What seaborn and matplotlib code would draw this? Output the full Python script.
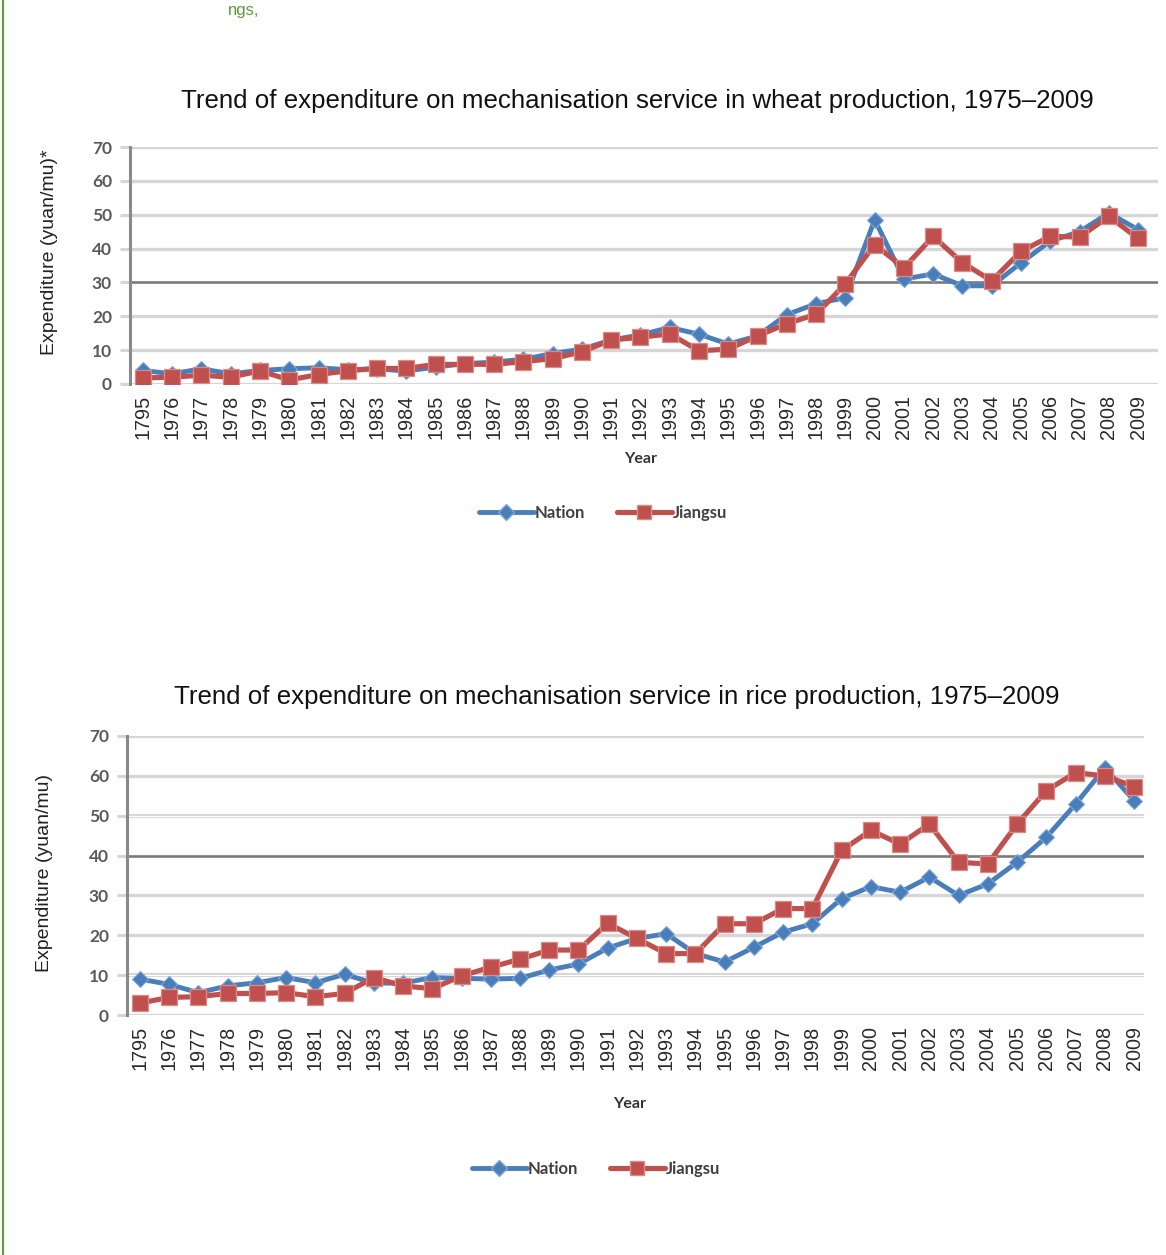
import matplotlib
matplotlib.use("Agg")
import matplotlib.pyplot as plt
import seaborn as sns
from matplotlib.lines import Line2D

# --- data -------------------------------------------------------------
years = ["1795", "1976", "1977", "1978", "1979", "1980", "1981", "1982",
         "1983", "1984", "1985", "1986", "1987", "1988", "1989", "1990",
         "1991", "1992", "1993", "1994", "1995", "1996", "1997", "1998",
         "1999", "2000", "2001", "2002", "2003", "2004", "2005", "2006",
         "2007", "2008", "2009"]

wheat_nation = [4, 3, 4.5, 3, 4, 4.5, 4.8, 4.2, 4.5, 3.8, 5, 6, 6.5, 7.3,
                9, 10.3, 13, 14.5, 16.7, 14.7, 11.8, 14.2, 20.5, 23.7, 25.5,
                48.5, 31, 32.5, 29, 29, 35.8, 42.2, 45, 50.5, 45.6]
wheat_jiangsu = [1.8, 2, 2.6, 2, 3.9, 1.2, 2.8, 3.9, 4.6, 4.6, 5.8, 5.8,
                 5.8, 6.6, 7.5, 9.5, 13, 13.8, 14.8, 9.8, 10.3, 14.2, 17.8,
                 20.6, 29.6, 41.2, 34.3, 43.6, 35.8, 30.5, 39.2, 43.6, 43.4,
                 49.5, 43]

rice_nation = [9, 7.7, 5.6, 7.3, 8.1, 9.4, 8.1, 10.2, 8, 8, 9.4, 9.2, 9,
               9.2, 11.3, 12.8, 16.8, 19.2, 20.4, 15.4, 13.3, 17, 20.8, 22.9,
               29.2, 32.2, 30.8, 34.6, 30, 32.9, 38.3, 44.6, 52.9, 62, 53.8]
rice_jiangsu = [3, 4.4, 4.6, 5.4, 5.4, 5.6, 4.6, 5.4, 9.4, 7.3, 6.6, 9.8,
                12, 14, 16.3, 16.3, 23, 19.2, 15.4, 15.4, 22.9, 22.9, 26.7,
                26.7, 41.3, 46.3, 42.9, 47.9, 38.3, 37.9, 47.9, 56.3, 60.8,
                60, 57.3]

series_names = ["Nation", "Jiangsu"]
y_ticks = [0, 10, 20, 30, 40, 50, 60, 70]

# --- styling ----------------------------------------------------------
sns.set_theme(style="white")
plt.rcParams["font.family"] = ["Liberation Sans", "DejaVu Sans"]

W, H = 1166, 1255
fig = plt.figure(figsize=(W / 100, H / 100), dpi=100)


def fx(px):
    return px / W


def fy(py):
    return 1 - py / H


BLUE = "#4a7ebb"
BLUE_EDGE = "#7ea6d8"
RED = "#c0504d"
RED_EDGE = "#dd8a87"
GRID = "#d6d6d6"
DARK = "#7a7a7a"

line_styles = {
    "Nation": dict(color=BLUE, markers="D", markersize=8,
                   markeredgecolor=BLUE_EDGE, markeredgewidth=0.8,
                   linewidth=3.5),
    "Jiangsu": dict(color=RED, markers="s", markersize=11,
                    markeredgecolor=RED_EDGE, markeredgewidth=0.9,
                    linewidth=3.7),
}


def draw_panel(ax, nation, jiangsu, dark_level, double_levels, xlim):
    # horizontal guide lines
    for v in y_ticks:
        if v == dark_level:
            ax.axhline(v, color=DARK, lw=1.9, zorder=0)
        elif v in double_levels:
            ax.axhline(v, color=GRID, lw=3.0, zorder=0)
            ax.axhline(v, color="white", lw=0.8, zorder=0)
        else:
            ax.axhline(v, color=GRID, lw=2.4, zorder=0)

    for name, vals in zip(series_names, [nation, jiangsu]):
        sns.pointplot(x=years, y=vals, ax=ax, linestyles="-",
                      **line_styles[name])

    ax.set_xlim(*xlim)
    ax.set_ylim(0, 70)
    ax.set_yticks(y_ticks)
    ax.set_yticklabels([str(v) for v in y_ticks], family="Lato",
                       fontweight="bold", fontsize=12.5, color="#5a5a5a")
    ax.set_xticks(range(len(years)))
    ax.set_xticklabels(years, rotation=90, fontsize=14.3, color="#2a2a2a")
    ax.tick_params(axis="x", length=0, pad=8)
    ax.tick_params(axis="y", length=7, width=2.2, color=GRID, pad=6,
                   direction="out", left=True)
    for s in ["top", "right", "bottom"]:
        ax.spines[s].set_visible(False)
    ax.spines["left"].set_color("#8a8a8a")
    ax.spines["left"].set_linewidth(2.2)
    ax.set_xlabel("")
    ax.set_ylabel("")
    ax.grid(False)


def add_legend(cx, cy):
    handles = [
        Line2D([], [], color=BLUE, marker="D", markersize=8.5,
               markeredgecolor=BLUE_EDGE, lw=3.5),
        Line2D([], [], color=RED, marker="s", markersize=10.5,
               markeredgecolor=RED_EDGE, lw=3.7),
    ]
    fig.legend(handles, series_names, loc="center",
               bbox_to_anchor=(fx(cx), fy(cy)), ncol=2, frameon=False,
               handlelength=3.3, handletextpad=0.05, columnspacing=1.9,
               prop=dict(family="Lato", weight="bold", size=12),
               labelcolor="#404040")


TITLE_SIZE = 18.6

# wheat panel
ax1 = fig.add_axes([fx(130), fy(384), fx(1158) - fx(130), fy(147) - fy(384)])
draw_panel(ax1, wheat_nation, wheat_jiangsu, 30, [], (-0.44, 34.68))
fig.text(fx(637), fy(101),
         "Trend of expenditure on mechanisation service in wheat production, 1975\u20132009",
         ha="center", va="center", fontsize=TITLE_SIZE, color="#111111")
fig.text(fx(50), fy(252), "Expenditure (yuan/mu)*", rotation=90,
         ha="center", va="center", fontsize=14, color="#222222")
fig.text(fx(641), fy(459), "Year", ha="center", va="center",
         family="Lato", fontweight="bold", fontsize=11.5, color="#333333")
add_legend(603, 513)

# rice panel
ax2 = fig.add_axes([fx(127), fy(1015), fx(1144) - fx(127), fy(736) - fy(1015)])
draw_panel(ax2, rice_nation, rice_jiangsu, 40, [10, 50], (-0.44, 34.34))
fig.text(fx(617), fy(697),
         "Trend of expenditure on mechanisation service in rice production, 1975\u20132009",
         ha="center", va="center", fontsize=TITLE_SIZE, color="#111111")
fig.text(fx(45), fy(873), "Expenditure (yuan/mu)", rotation=90,
         ha="center", va="center", fontsize=14, color="#222222")
fig.text(fx(630), fy(1104), "Year", ha="center", va="center",
         family="Lato", fontweight="bold", fontsize=11.5, color="#333333")
add_legend(596, 1169)

# page frame rule on the left and the running text above
fig.add_artist(Line2D([fx(3), fx(3)], [0, 1], color="#6a9a3a", lw=1.6))
fig.text(fx(228), fy(10), "ngs,", ha="left", va="center", fontsize=12,
         color="#5a9a3a")

fig.savefig("out.png", dpi=100)
